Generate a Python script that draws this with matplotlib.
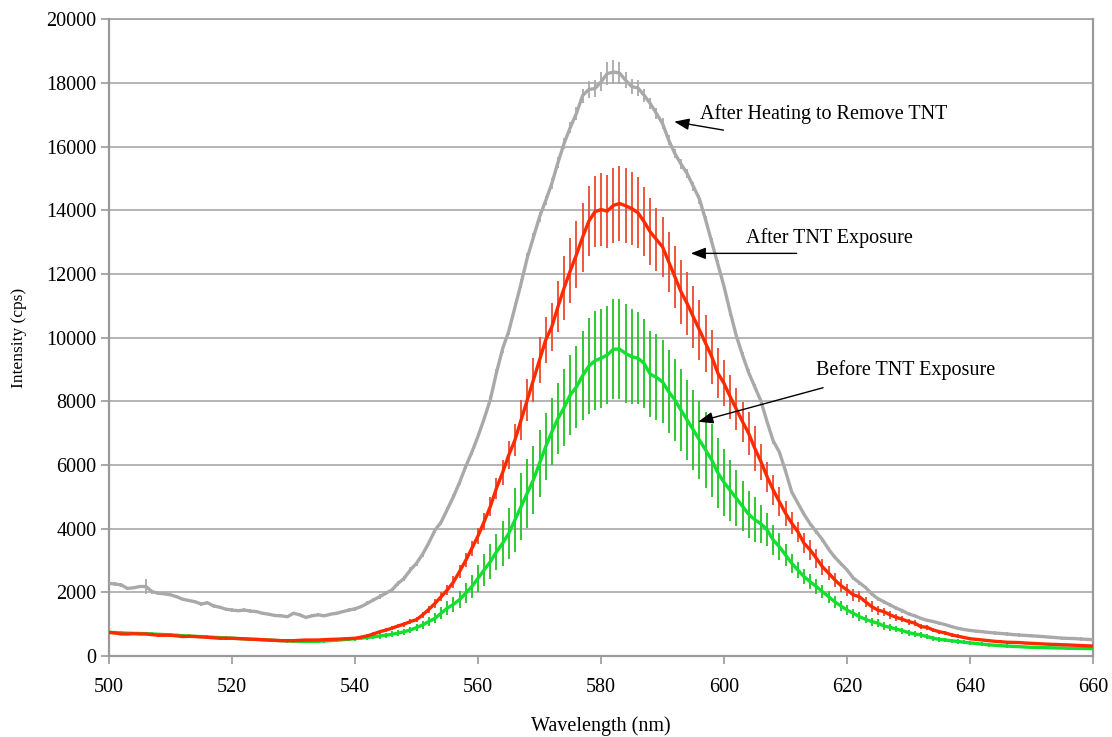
"""
Fluorescence spectra before / after TNT exposure, with error bars.
"""

import numpy as np
import matplotlib
matplotlib.use("Agg")
import matplotlib.pyplot as plt

plt.rcParams['font.family'] = ['Liberation Serif', 'DejaVu Serif']

# wavelength axis, 1 nm steps
wavelength = np.arange(500, 661)

# After heating to remove TNT (gray)
heated = [
    2280, 2260, 2230, 2120, 2140, 2180, 2180, 2020, 1970, 1950,
    1920, 1860, 1780, 1740, 1700, 1630, 1670, 1570, 1530, 1470,
    1440, 1420, 1440, 1410, 1390, 1340, 1310, 1270, 1260, 1230,
    1340, 1290, 1210, 1260, 1290, 1260, 1310, 1340, 1390, 1440,
    1480, 1550, 1650, 1760, 1860, 1970, 2070, 2280, 2440, 2700,
    2910, 3200, 3550, 3950, 4200, 4600, 5000, 5450, 5950, 6400,
    6900, 7450, 8050, 8900, 9650, 10200, 10950, 11700, 12500, 13150,
    13790, 14300, 14840, 15500, 16100, 16600, 17040, 17600, 17790, 17820,
    18030, 18290, 18340, 18310, 18080, 17880, 17840, 17610, 17350, 17040,
    16720, 16200, 15780, 15450, 15150, 14750, 14350, 13700, 13000, 12300,
    11600, 10800, 10050, 9450, 8900, 8450, 8000, 7350, 6750, 6400,
    5800, 5150, 4800, 4450, 4150, 3900, 3650, 3350, 3100, 2900,
    2700, 2450, 2300, 2150, 1950, 1800, 1700, 1600, 1500, 1420,
    1320, 1260, 1180, 1120, 1080, 1030, 980, 920, 870, 830,
    800, 780, 760, 740, 720, 705, 690, 670, 655, 645,
    630, 620, 605, 590, 575, 560, 550, 545, 530, 520, 510,
]
heated_err = [
    50, 50, 50, 50, 50, 60, 235, 60, 50, 50,
    50, 50, 50, 50, 50, 50, 50, 50, 50, 50,
    50, 50, 50, 50, 50, 50, 50, 50, 50, 50,
    50, 50, 50, 50, 50, 50, 50, 50, 50, 50,
    60, 60, 60, 60, 70, 70, 70, 70, 80, 80,
    80, 80, 80, 80, 80, 80, 80, 80, 80, 80,
    100, 100, 110, 110, 120, 120, 130, 130, 140, 140,
    150, 150, 160, 160, 170, 180, 200, 220, 260, 270,
    300, 370, 370, 350, 250, 240, 250, 200, 180, 170,
    160, 150, 150, 150, 140, 140, 140, 130, 130, 120,
    120, 110, 110, 100, 100, 90, 90, 80, 80, 70,
    60, 60, 60, 60, 60, 60, 60, 60, 60, 60,
    60, 60, 60, 60, 60, 60, 60, 60, 60, 60,
    50, 50, 50, 50, 50, 50, 50, 50, 50, 50,
    50, 50, 50, 50, 50, 50, 50, 50, 50, 50,
    50, 50, 50, 50, 50, 50, 50, 50, 50, 50, 50,
]

# After TNT exposure (red)
after_tnt = [
    740, 720, 690, 690, 700, 690, 690, 670, 650, 650,
    650, 630, 610, 615, 610, 595, 585, 570, 555, 555,
    555, 545, 535, 525, 520, 510, 500, 490, 480, 480,
    480, 490, 500, 500, 500, 510, 520, 525, 535, 545,
    555, 590, 630, 690, 760, 810, 870, 940, 1000, 1080,
    1140, 1290, 1460, 1650, 1860, 2070, 2320, 2650, 3000, 3380,
    3770, 4220, 4690, 5270, 5760, 6310, 6780, 7410, 8040, 8670,
    9290, 9920, 10340, 10970, 11560, 12100, 12600, 13150, 13650, 13950,
    14020, 13970, 14150, 14210, 14140, 14050, 13920, 13640, 13320, 13080,
    12850, 12380, 11910, 11440, 11070, 10650, 10240, 9820, 9400, 8880,
    8560, 8140, 7750, 7360, 6990, 6520, 6100, 5630, 5210, 4840,
    4480, 4170, 3900, 3540, 3330, 3070, 2800, 2600, 2390, 2210,
    2070, 1920, 1860, 1700, 1550, 1440, 1390, 1290, 1210, 1150,
    1080, 1030, 920, 900, 815, 760, 720, 660, 620, 580,
    540, 520, 500, 480, 460, 445, 430, 425, 420, 405,
    395, 385, 375, 365, 360, 350, 345, 335, 325, 318, 310,
]
after_tnt_err = [
    40, 40, 40, 40, 40, 40, 40, 40, 40, 40,
    40, 40, 40, 40, 40, 40, 40, 40, 40, 40,
    40, 40, 40, 40, 40, 40, 40, 40, 40, 40,
    40, 40, 40, 40, 40, 40, 40, 40, 40, 40,
    45, 45, 50, 55, 60, 65, 70, 75, 80, 85,
    90, 100, 110, 130, 150, 170, 190, 200, 220, 240,
    250, 280, 300, 330, 380, 430, 500, 620, 650, 680,
    720, 720, 750, 800, 1000, 1020, 1050, 1080, 1100, 1120,
    1140, 1150, 1170, 1180, 1170, 1150, 1120, 1080, 1050, 1000,
    950, 950, 980, 1000, 1000, 980, 950, 900, 850, 780,
    720, 690, 660, 630, 680, 700, 560, 470, 470, 460,
    400, 340, 320, 310, 310, 300, 250, 220, 210, 195,
    180, 180, 175, 165, 160, 140, 125, 115, 105, 100,
    95, 90, 85, 80, 75, 70, 65, 60, 55, 50,
    45, 45, 40, 40, 40, 40, 40, 40, 40, 40,
    35, 35, 35, 35, 35, 35, 35, 35, 35, 35, 35,
]

# Before TNT exposure (green)
before_tnt = [
    740, 735, 725, 715, 710, 705, 700, 690, 680, 670,
    660, 650, 635, 625, 615, 605, 595, 585, 575, 565,
    555, 545, 535, 525, 515, 505, 495, 485, 478, 470,
    465, 460, 458, 458, 460, 470, 480, 495, 510, 525,
    540, 560, 580, 600, 625, 650, 680, 715, 760, 815,
    890, 975, 1080, 1180, 1340, 1500, 1620, 1770, 1970, 2180,
    2440, 2700, 2960, 3270, 3540, 3850, 4270, 4690, 5110, 5530,
    6050, 6570, 7040, 7460, 7800, 8200, 8450, 8800, 9100, 9270,
    9350, 9450, 9630, 9640, 9500, 9400, 9350, 9190, 8850, 8750,
    8610, 8300, 8040, 7720, 7410, 7100, 6780, 6470, 6150, 5750,
    5450, 5200, 4950, 4700, 4450, 4280, 4150, 3960, 3640, 3430,
    3170, 2910, 2700, 2490, 2330, 2180, 2020, 1860, 1700, 1570,
    1440, 1340, 1235, 1150, 1080, 1030, 940, 900, 840, 795,
    730, 690, 660, 610, 555, 520, 500, 475, 455, 430,
    410, 390, 370, 350, 335, 320, 310, 300, 290, 280,
    270, 265, 260, 255, 250, 245, 240, 238, 235, 232, 230,
]
before_tnt_err = [
    50, 50, 50, 50, 50, 50, 50, 50, 50, 50,
    50, 50, 50, 50, 50, 50, 50, 50, 50, 50,
    50, 50, 50, 50, 50, 50, 50, 50, 50, 50,
    50, 50, 50, 50, 50, 50, 50, 50, 50, 50,
    60, 65, 70, 75, 80, 85, 90, 95, 100, 105,
    110, 125, 145, 160, 185, 210, 235, 260, 310, 370,
    430, 500, 540, 575, 700, 800, 1000, 1050, 1080, 1060,
    1050, 1050, 1050, 1120, 1200, 1250, 1300, 1400, 1500, 1550,
    1550, 1550, 1570, 1570, 1550, 1500, 1450, 1400, 1350, 1350,
    1300, 1300, 1300, 1280, 1260, 1250, 1220, 1190, 1150, 1100,
    1050, 960, 880, 790, 740, 700, 600, 520, 470, 420,
    340, 290, 260, 240, 235, 230, 210, 185, 180, 165,
    155, 145, 140, 130, 125, 120, 110, 105, 100, 95,
    90, 85, 85, 80, 80, 75, 75, 70, 70, 65,
    60, 60, 55, 55, 50, 50, 50, 50, 45, 45,
    45, 45, 45, 40, 40, 40, 40, 40, 40, 40, 40,
]

y_ticks = list(range(0, 20001, 2000))
x_ticks = list(range(500, 661, 20))

fig = plt.figure(figsize=(11.12, 7.37), dpi=100)
ax = fig.add_axes([0.098, 0.110, 0.885, 0.864])

series = [
    (heated, heated_err, '#a9a9a9', '#a9a9a9'),
    (before_tnt, before_tnt_err, '#10e030', '#22c422'),
    (after_tnt, after_tnt_err, '#ff2a00', '#ec4a2c'),
]
for vals, errs, line_col, bar_col in series:
    ax.errorbar(wavelength, vals, yerr=errs, fmt='none', ecolor=bar_col,
                elinewidth=1.3, capsize=0, zorder=2)
    ax.plot(wavelength, vals, color=line_col, lw=2.4, zorder=3,
            solid_joinstyle='round')

ax.set_xlim(500, 660)
ax.set_ylim(0, 20000)
ax.set_xticks(x_ticks)
ax.set_yticks(y_ticks)
ax.yaxis.grid(True, color='#a0a0a0', lw=1.1)
ax.set_axisbelow(True)

for side in ['left', 'bottom', 'right', 'top']:
    ax.spines[side].set_color('#9a9a9a')
    ax.spines[side].set_linewidth(1.6)
ax.spines['top'].set_linewidth(1.1)

ax.tick_params(axis='both', direction='out', length=6, width=1.2,
               color='#9a9a9a', labelsize=14.5)
ax.tick_params(axis='x', pad=10)
ax.tick_params(axis='y', pad=3)

ax.set_xlabel('Wavelength (nm)', fontsize=14.5, labelpad=14)
ax.set_ylabel('Intensity (cps)', fontsize=12.5, labelpad=14)

# labels with arrows
arrow = dict(arrowstyle='-|>,head_length=0.9,head_width=0.35',
             color='black', lw=1.0, shrinkA=0, shrinkB=0)
ax.annotate('', xy=(591.9, 16780), xytext=(599.9, 16515), arrowprops=arrow)
ax.text(596.1, 17020, 'After Heating to Remove TNT', fontsize=14.5,
        va='center', ha='left')
ax.annotate('', xy=(594.6, 12644), xytext=(611.8, 12644), arrowprops=arrow)
ax.text(603.6, 13124, 'After TNT Exposure', fontsize=14.5,
        va='center', ha='left')
ax.annotate('', xy=(595.8, 7356), xytext=(616.1, 8424), arrowprops=arrow)
ax.text(614.9, 8980, 'Before TNT Exposure', fontsize=14.5,
        va='center', ha='left')

fig.savefig('out.png', dpi=100)
